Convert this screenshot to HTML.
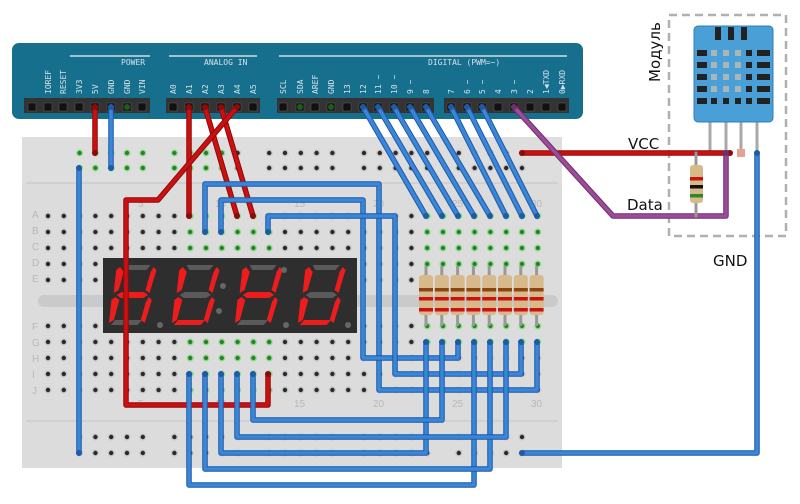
<!DOCTYPE html>
<html><head><meta charset="utf-8"><style>
html,body{margin:0;padding:0;background:#fff;width:800px;height:504px;overflow:hidden}
svg{display:block}
.pl{font-family:"DejaVu Sans Mono","Liberation Mono",monospace;font-size:8px;fill:#d4e2e8}
.lb{font-family:"DejaVu Sans","Liberation Sans",sans-serif;font-size:15px;fill:#111}
.bl{font-family:"Liberation Sans",sans-serif;font-size:10px;fill:#b8b8b8}
</style></head><body>
<svg id="s" width="800" height="504" viewBox="0 0 800 504" xmlns="http://www.w3.org/2000/svg">
<rect x="22" y="137" width="540" height="331" fill="#dcdcdc"/>
<rect x="22" y="137" width="540" height="46" fill="#dedede"/>
<line x1="26" y1="183" x2="558" y2="183" stroke="#c4c4c4" stroke-width="1"/>
<line x1="26" y1="421" x2="558" y2="421" stroke="#c4c4c4" stroke-width="1"/>
<rect x="38" y="295" width="520" height="12" rx="6" fill="#cacaca"/>
<g id="holes"></g>
<g class="bl">
<text x="32" y="218">A</text><text x="32" y="234">B</text><text x="32" y="250">C</text><text x="32" y="266">D</text><text x="32" y="282">E</text>
<text x="32" y="330">F</text><text x="32" y="346">G</text><text x="32" y="362">H</text><text x="32" y="378">I</text><text x="32" y="394">J</text>
<text x="138" y="407">5</text><text x="215" y="407">10</text><text x="294" y="407">15</text><text x="373" y="407">20</text><text x="452" y="407">25</text><text x="531" y="407">30</text>
<text x="138" y="207">5</text><text x="215" y="207">10</text><text x="294" y="207">15</text><text x="373" y="207">20</text><text x="452" y="207">25</text><text x="531" y="207">30</text>
</g>
<rect x="12" y="43" width="571" height="76" rx="7" fill="#176f8e"/>
<line x1="70" y1="56" x2="150" y2="56" stroke="#d0dde3" stroke-width="1.5"/>
<line x1="169" y1="56" x2="257" y2="56" stroke="#d0dde3" stroke-width="1.5"/>
<line x1="279" y1="56" x2="567" y2="56" stroke="#d0dde3" stroke-width="1.5"/>
<text class="pl" x="121" y="65">POWER</text>
<text class="pl" x="204" y="65">ANALOG IN</text>
<text class="pl" x="428" y="65">DIGITAL (PWM=~)</text>
<rect x="24" y="98" width="126" height="15" fill="#333"/>
<rect x="166" y="98" width="94" height="15" fill="#333"/>
<rect x="277" y="98" width="157" height="15" fill="#333"/>
<rect x="444" y="98" width="125" height="15" fill="#333"/>
<g id="pins"></g>
<rect x="103" y="258" width="254" height="75" fill="#2e2e2e"/>
<g id="disp"></g>
<g id="res"></g>
<rect x="669" y="15" width="117" height="221" fill="none" stroke="#b0b0b0" stroke-width="2.5" stroke-dasharray="8,5"/>
<text class="lb" transform="translate(660,82) rotate(-90)" style="font-size:15px">Модуль</text>
<g stroke="#a8a8a8" stroke-width="3"><line x1="710" y1="120" x2="710" y2="153"/><line x1="726" y1="120" x2="726" y2="153"/><line x1="741" y1="120" x2="741" y2="153"/><line x1="757" y1="120" x2="757" y2="153"/></g>
<rect x="694" y="26" width="79" height="96" rx="4" fill="#4a9fd6" stroke="#2f7fb5"/>
<g id="dht"></g>
<rect x="737" y="149" width="8" height="8" fill="#e8a090"/>
<g id="wires" fill="none" stroke-linecap="round" stroke-linejoin="round"></g>
<text class="lb" x="628" y="149">VCC</text>
<text class="lb" x="627" y="210">Data</text>
<text class="lb" x="713" y="266">GND</text>
</svg>
<script>
var NS="http://www.w3.org/2000/svg";
function el(p,t,a){var e=document.createElementNS(NS,t);for(var k in a)e.setAttribute(k,a[k]);p.appendChild(e);return e;}
var H=document.getElementById('holes');
function hole(x,y,g){el(H,'circle',{cx:x,cy:y,r:3.6,fill:g?'#8fe08f':'#c8c8c8'});el(H,'circle',{cx:x,cy:y,r:2.2,fill:g?'#2e7d32':'#2a2a2a'});}
var cx=function(k){return 48+15.8*k;};
var rowsT=[216,232,248,264,280],rowsB=[326,342,358,374,390];
for(var k=0;k<32;k++){
 rowsT.forEach(function(y,i){var g=(k>=9&&k<=14&&i<3)||(k>=24&&k<=31);hole(cx(k),y,g);});
 rowsB.forEach(function(y,i){var g=(k>=9&&k<=14)||(k>=24&&k<=31&&i<2);hole(cx(k),y,g);});
}
for(var k=2;k<31;k++){ if((k-2)%6==5)continue; [153,168,437,453].forEach(function(y){hole(cx(k),y,k<12&&y<170);});}
var P=document.getElementById('pins');
function pin(x,lab,g){el(P,'rect',{x:x-4,y:103,width:8,height:8,fill:'#111',stroke:'#555','stroke-width':0.6});
 if(g)el(P,'circle',{cx:x,cy:107,r:3,fill:'#1a5e1a'});
 if(lab){var t=el(P,'text',{class:'pl',transform:'translate('+(x+3)+',94) rotate(-90)'});t.textContent=lab;}}
pin(32,'');
[[48,'IOREF'],[63,'RESET'],[79,'3V3'],[95,'5V'],[111,'GND'],[127,'GND'],[142,'VIN']].forEach(function(a,i){pin(a[0],a[1],i==5);});
[['A0',173],['A1',189],['A2',205],['A3',221],['A4',237],['A5',253]].forEach(function(a){pin(a[1],a[0]);});
[['SCL',283],['SDA',300],['AREF',315],['GND',331],['13',347],['12',363],['11 ~',378],['10 ~',394],['9 ~',410],['8',426],['7',451],['6 ~',467],['5 ~',482],['4',498],['3 ~',514],['2',530],['1◀TXD',546],['0▶RXD',562]].forEach(function(a){pin(a[1],a[0],a[0]=='SDA'||a[0]=='GND');});
var D=document.getElementById('disp');
var segs={a:'M6,0 L30,0 L27,5 L9,5Z',b:'M33,2 L36,5 L33,28 L29,25 L31,7Z',c:'M33,32 L36,35 L33,58 L29,55 L31,37Z',
d:'M3,60 L27,60 L30,55 L6,55Z',e:'M3,32 L7,35 L5,55 L1,58 L0,35Z',f:'M3,2 L7,7 L5,25 L1,28 L0,5Z',g:'M4,30 L8,27 L28,27 L32,30 L28,33 L8,33Z'};
function digit(x,on){var g=el(D,'g',{transform:'translate('+x+',265) skewX(-9) scale(1.12,1)'});
 for(var s in segs)el(g,'path',{d:segs[s],fill:on.indexOf(s)>=0?'#ee1c1c':'#5a5a5a'});}
digit(117,'bcefg');digit(180,'bcdef');digit(243,'bcefg');digit(306,'bcdef');
[[160,325],[223,286],[219,311],[286,325],[348,325],[284,270]].forEach(function(p){el(D,'circle',{cx:p[0],cy:p[1],r:3,fill:'#666'});});
var R=document.getElementById('res');
for(var i=0;i<8;i++){var x=426+15.8*i;
 el(R,'line',{x1:x,y1:266,x2:x,y2:326,stroke:'#999','stroke-width':3});
 el(R,'rect',{x:x-7,y:275,width:14,height:40,rx:3,fill:'#d8b98a'});
 [[288,'#8b4513'],[297,'#cc1111'],[308,'#cc1111']].forEach(function(b){el(R,'rect',{x:x-7,y:b[0],width:14,height:3.5,fill:b[1]});});}
var G=document.getElementById('dht');
for(var r=0;r<5;r++){var y=50+r*12;
 el(G,'rect',{x:697,y:y,width:10,height:6,fill:'#222'});el(G,'rect',{x:757,y:y,width:13,height:6,fill:'#222'});
 [714,726,738,749].forEach(function(x,j){el(G,'rect',{x:x-3,y:y,width:6,height:6,fill:(j<3&&r<4)?'#a8b8b8':'#222'});});}
[718,731,744].forEach(function(x){el(G,'rect',{x:x-3,y:27,width:6,height:13,fill:'#222'});});
var W=document.getElementById('wires');
function wire(pts,c,dk){var d='M'+pts.map(function(p){return p.join(',');}).join(' L');
 el(W,'path',{d:d,stroke:dk,'stroke-width':5.5});el(W,'path',{d:d,stroke:c,'stroke-width':3.5});
 [pts[0],pts[pts.length-1]].forEach(function(p){el(W,'circle',{cx:p[0],cy:p[1],r:3,fill:dk});});}
var red='#cc1010',rdk='#8e0a0a',blu='#3a86d8',bdk='#1d5aa8',pur='#9b4c9b',pdk='#6e2f6e';
wire([[95,107],[95,153]],red,rdk);
wire([[111,107],[111,168]],blu,bdk);
wire([[79,168],[79,453]],blu,bdk);
wire([[189,107],[189,216]],red,rdk);
wire([[205,107],[237,216]],red,rdk);
wire([[221,107],[253,216]],red,rdk);
wire([[237,107],[158,200],[126,200],[126,405],[268,405],[268,374]],red,rdk);
wire([[205,232],[205,184],[379,184],[379,390],[537,390],[537,342]],blu,bdk);
wire([[221,232],[221,200],[363,200],[363,358],[458,358],[458,342]],blu,bdk);
wire([[268,232],[268,216],[395,216],[395,374],[521,374],[521,342]],blu,bdk);
wire([[189,374],[189,485],[474,485],[474,342]],blu,bdk);
wire([[205,374],[205,469],[490,469],[490,342]],blu,bdk);
wire([[221,374],[221,453],[426,453],[426,342]],blu,bdk);
wire([[237,374],[237,437],[506,437],[506,342]],blu,bdk);
wire([[253,374],[253,420],[442,420],[442,342]],blu,bdk);
[[363,426],[378,442],[394,458],[410,474],[426,490],[451,506],[467,522],[482,537]].forEach(function(a){wire([[a[0],107],[a[1],216]],blu,bdk);});
wire([[522,153],[730,153]],red,rdk);
wire([[514,107],[613,216],[726,216],[726,153]],pur,pdk);
wire([[757,153],[757,453],[522,453]],blu,bdk);
var PR=el(W,'g',{});
el(PR,'line',{x1:696,y1:153,x2:696,y2:216,stroke:'#999','stroke-width':3});
el(PR,'rect',{x:690,y:165,width:13,height:38,rx:3,fill:'#d8b98a'});
[[177,'#cc1111'],[185,'#111'],[194,'#2a8a2a']].forEach(function(b){el(PR,'rect',{x:690,y:b[0],width:13,height:3.5,fill:b[1]});});
</script>
</body></html>
